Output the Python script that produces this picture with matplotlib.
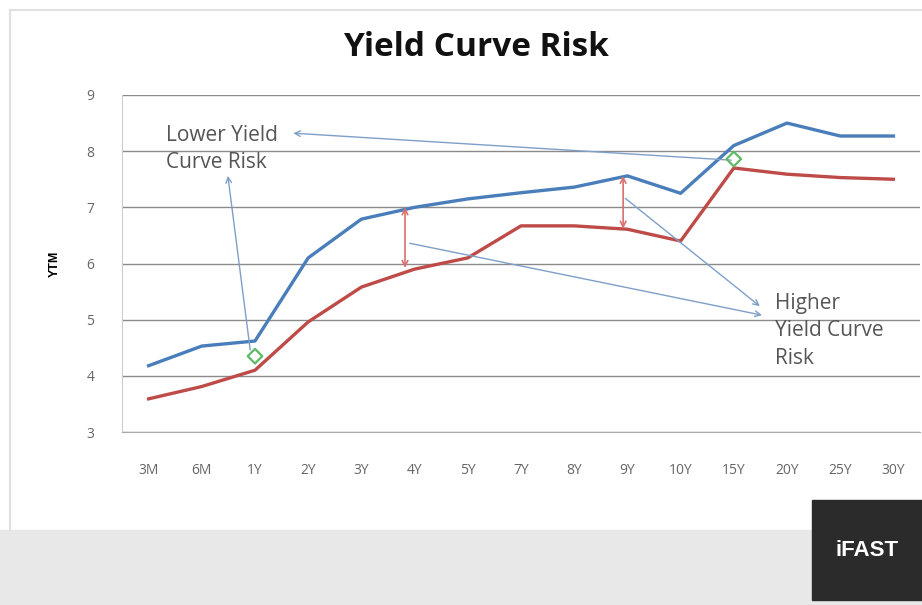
# Yield Curve Risk chart
import matplotlib.pyplot as plt
from matplotlib.patches import Rectangle

tenors = ["3M", "6M", "1Y", "2Y", "3Y", "4Y", "5Y", "7Y", "8Y", "9Y", "10Y", "15Y", "20Y", "25Y", "30Y"]
ytm_blue = [4.18, 4.53, 4.62, 6.1, 6.79, 7.0, 7.15, 7.26, 7.36, 7.56, 7.25, 8.1, 8.5, 8.27, 8.27]
ytm_red = [3.59, 3.81, 4.1, 4.96, 5.58, 5.9, 6.1, 6.67, 6.67, 6.61, 6.4, 7.7, 7.59, 7.53, 7.5]

# green markers where curves are compared
mark_idx = [2, 11]
mark_val = [4.35, 7.86]

font = "Open Sans"
blue = "#4a7ebb"
red = "#be4b48"
arrow_c = "#7f9fc8"

fig = plt.figure(figsize=(9.22, 6.05), dpi=100)
fig.patch.set_facecolor("white")

# background panels
fig.patches.append(Rectangle((0, 0), 1, 75 / 605, transform=fig.transFigure,
                             color="#e8e8e8", zorder=0))
fig.patches.append(Rectangle((812 / 922, 5 / 605), 110 / 922, 100 / 605,
                             transform=fig.transFigure, color="#2b2b2b", zorder=1))
fig.lines.append(plt.Line2D([10 / 922, 1], [1 - 10 / 605, 1 - 10 / 605],
                            transform=fig.transFigure, color="#e0e0e0", lw=1.5))
fig.lines.append(plt.Line2D([10 / 922, 10 / 922], [75 / 605, 1 - 10 / 605],
                            transform=fig.transFigure, color="#e0e0e0", lw=1.5))
fig.text(867 / 922, 1 - 551 / 605, "iFAST", color="white", fontsize=16,
         fontweight="bold", family="Liberation Sans", ha="center", va="center")

ax = fig.add_axes([122 / 922, 1 - 432 / 605, 798 / 922, 337 / 605])
x = list(range(len(tenors)))
ax.plot(x, ytm_blue, color=blue, lw=2.4, zorder=3)
ax.plot(x, ytm_red, color=red, lw=2.4, zorder=3)
ax.scatter(mark_idx, mark_val, marker="D", s=55, facecolors="none",
           edgecolors="#5dbb63", linewidths=1.6, zorder=4)

ax.set_xlim(-0.5, len(tenors) - 0.5)
ax.set_ylim(3, 9)
ax.set_yticks(range(3, 10))
ax.set_xticks(x)
ax.set_xticklabels(tenors)
ax.tick_params(length=0, colors="#666666", labelsize=10)
ax.tick_params(axis="x", pad=22)
ax.tick_params(axis="y", pad=20)
for lab in ax.get_xticklabels() + ax.get_yticklabels():
    lab.set_family(font)
ax.yaxis.grid(True, color="#8a8a8a", lw=1)
ax.set_axisbelow(True)
for s in ["top", "right"]:
    ax.spines[s].set_visible(False)
ax.spines["left"].set_color("#cccccc")
ax.spines["bottom"].set_color("#aaaaaa")
ax.set_ylabel("YTM", fontsize=9, fontweight="bold", family="Liberation Sans", labelpad=18)

fig.text(476 / 922, 1 - 48 / 605, "Yield Curve Risk", fontsize=24, fontweight="bold",
         family=font, ha="center", va="center", color="#111111")

# annotations
arr = dict(arrowstyle="->", color=arrow_c, lw=1, shrinkA=0, shrinkB=0)
ax.text(0.33, 8.04, "Lower Yield\nCurve Risk", family=font, fontsize=15,
        color="#555555", va="center", ha="left", linespacing=1.4)
ax.annotate("", xy=(2.72, 8.32), xytext=(10.95, 7.84), arrowprops=arr)
ax.annotate("", xy=(1.49, 7.56), xytext=(1.91, 4.46), arrowprops=arr)

ax.text(11.77, 4.8, "Higher\nYield Curve\nRisk", family=font, fontsize=15,
        color="#555555", va="center", ha="left", linespacing=1.4)
ax.annotate("", xy=(11.53, 5.08), xytext=(4.91, 6.36), arrowprops=arr)
ax.annotate("", xy=(11.49, 5.24), xytext=(8.96, 7.16), arrowprops=arr)

red_arr = dict(arrowstyle="<->", color="#d9706d", lw=1.2, shrinkA=0, shrinkB=0)
ax.annotate("", xy=(4.82, 7.0), xytext=(4.82, 5.92), arrowprops=red_arr)
ax.annotate("", xy=(8.92, 7.56), xytext=(8.92, 6.62), arrowprops=red_arr)

fig.savefig("out.png", dpi=100)
